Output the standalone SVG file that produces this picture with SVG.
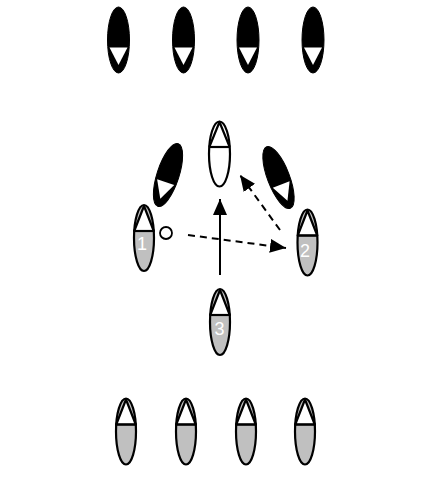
<svg xmlns="http://www.w3.org/2000/svg" xmlns:xlink="http://www.w3.org/1999/xlink" width="439" height="480" viewBox="0 0 439 480">
<style>
.out{stroke:#000;stroke-width:2.2}
.lbl{font-family:"Liberation Sans",Arial,sans-serif;font-size:18px;fill:#fff;text-anchor:middle}
.con{stroke:#000;stroke-width:2;fill:none}
</style>
<defs>
<g id="gray">
<ellipse cx="0" cy="0" rx="10" ry="33" fill="#c0c0c0" class="out"/>
<path d="M-9.77,-7 L0,-32 L9.77,-7 Z" fill="#fff" class="out" stroke-linejoin="round"/>
<line x1="-10.5" y1="-7" x2="10.5" y2="-7" class="out"/>
</g>
<g id="white">
<ellipse cx="0" cy="0" rx="10.5" ry="32.5" fill="#fff" class="out"/>
<path d="M-10.2,-7 L0,-32 L10.2,-7" fill="none" class="out" stroke-linejoin="round"/>
<line x1="-10.5" y1="-7" x2="10.5" y2="-7" class="out"/>
</g>
<g id="black">
<ellipse cx="0" cy="0" rx="11" ry="33" fill="#000" stroke="#000" stroke-width="1"/>
<path d="M-9,7.5 L9,7.5 L0,25 Z" fill="#fff"/>
</g>
<marker id="ah" viewBox="0 0 16 14" refX="16" refY="7" markerWidth="16" markerHeight="14" markerUnits="userSpaceOnUse" orient="auto">
<path d="M0,0 L16,7 L0,14 Z" fill="#000"/>
</marker>
</defs>
<rect width="439" height="480" fill="#fff"/>
<g id="connectors">
<line x1="220" y1="275" x2="220" y2="199" class="con" marker-end="url(#ah)"/>
<line x1="188" y1="235" x2="286" y2="248" class="con" stroke-dasharray="7 5" marker-end="url(#ah)"/>
<line x1="280" y1="230" x2="240" y2="175" class="con" stroke-dasharray="7 5" marker-end="url(#ah)"/>
</g>
<g id="top1"><use xlink:href="#black" transform="translate(118.5,40)"/></g>
<g id="top2"><use xlink:href="#black" transform="translate(183.5,40)"/></g>
<g id="top3"><use xlink:href="#black" transform="translate(248,40)"/></g>
<g id="top4"><use xlink:href="#black" transform="translate(313,40)"/></g>
<g id="midWhite"><use xlink:href="#white" transform="translate(219.5,154)"/></g>
<g id="midLeftBlack"><use xlink:href="#black" transform="translate(168,175) rotate(18)"/></g>
<g id="midRightBlack"><use xlink:href="#black" transform="translate(278.5,177.5) rotate(-21)"/></g>
<g id="ball"><circle cx="166" cy="233" r="6" fill="#fff" stroke="#000" stroke-width="1.8"/></g>
<g id="player1"><use xlink:href="#gray" transform="translate(144,238)"/><text x="142" y="250" class="lbl">1</text></g>
<g id="player2"><use xlink:href="#gray" transform="translate(307.5,242.5)"/><text x="305" y="257" class="lbl">2</text></g>
<g id="player3"><use xlink:href="#gray" transform="translate(220,322)"/><text x="219.5" y="335" class="lbl">3</text></g>
<g id="bot1"><use xlink:href="#gray" transform="translate(126,431.5)"/></g>
<g id="bot2"><use xlink:href="#gray" transform="translate(186,431.5)"/></g>
<g id="bot3"><use xlink:href="#gray" transform="translate(246,431.5)"/></g>
<g id="bot4"><use xlink:href="#gray" transform="translate(305,431.5)"/></g>
</svg>
